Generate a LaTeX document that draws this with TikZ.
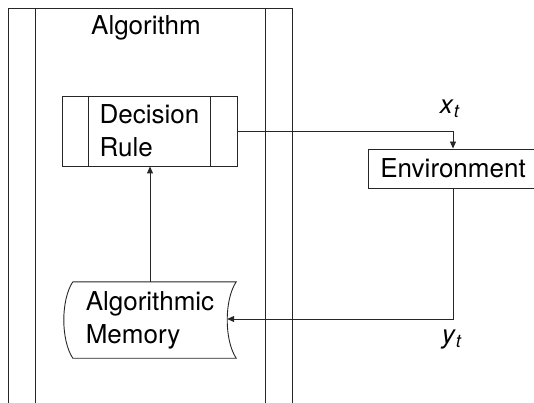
\documentclass[tikz,border=0pt]{standalone}
\usepackage{fontspec}
\setmainfont{TeX Gyre Heros}
\usetikzlibrary{arrows.meta,calc}
\begin{document}
\begin{tikzpicture}[x=1pt,y=-1pt,
  every node/.style={font=\fontsize{26}{33}\selectfont, inner sep=0pt},
  ln/.style={line width=0.9pt, draw=black!85},
  arr/.style={ln, -{Triangle[length=7pt,width=6pt]}},
  boxnode/.style={ln, rectangle}]
\useasboundingbox (0,0) rectangle (534,403);
% swimlane frame
\draw[ln] (8,410) -- (8,8) -- (292,8) -- (292,410);
\draw[ln] (35,8) -- (35,410);
\draw[ln] (265,8) -- (265,410);
\node[anchor=base] (title) at (146,35) {Algorithm};
% decision rule (predefined process)
\node[boxnode, draw, minimum width=175pt, minimum height=70pt, align=left] (dr) at (149.5,131) {Decision\\Rule};
\draw[ln] ($(dr.north west)+(27,0)$) -- ($(dr.south west)+(27,0)$);
\draw[ln] ($(dr.north east)+(-27,0)$) -- ($(dr.south east)+(-27,0)$);
% algorithmic memory (stored data)
\node[minimum width=172pt, minimum height=76pt, align=left] (mem) at (150,320) {Algorithmic\\Memory};
\draw[ln] ($(mem.north west)+(9,0)$) -- (mem.north east)
  .. controls ($(mem.east)+(-12,-20)$) and ($(mem.east)+(-12,20)$) .. (mem.south east)
  -- ($(mem.south west)+(9,0)$)
  .. controls ($(mem.west)+(-3,20)$) and ($(mem.west)+(-3,-20)$) .. ($(mem.north west)+(9,0)$);
\coordinate (memin) at ($(mem.east)+(-9,-1)$);
% environment
\node[boxnode, draw, minimum width=170pt, minimum height=39pt] (env) at (453,168.5) {Environment};
% labels
\node (xt) at (450,109) {\textit{x}\textsubscript{\textit{t}}};
\node (yt) at (452,340) {\textit{y}\textsubscript{\textit{t}}};
% connectors
\draw[arr] (mem.north) -- (mem.north |- dr.south);
\draw[arr] (dr.east) -| (env.north);
\draw[arr] (env.south) |- (memin);
\end{tikzpicture}
\end{document}
